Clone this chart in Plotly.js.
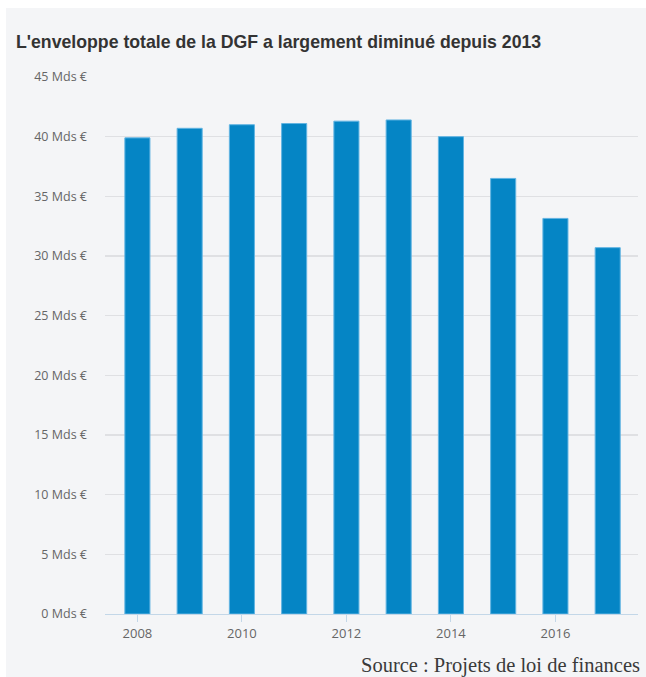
<!DOCTYPE html>
<html>
<head>
<meta charset="utf-8">
<script src="https://cdn.plot.ly/plotly-3.0.1.min.js"></script>
<style>
  html, body { margin: 0; padding: 0; background: #ffffff; }
  #chart { position: absolute; left: 6px; top: 8px; width: 640px; height: 669px; }
</style>
</head>
<body>
<div id="chart"></div>
<script>
const years = [2008, 2009, 2010, 2011, 2012, 2013, 2014, 2015, 2016, 2017];
const dgf = [39.9, 40.7, 41.0, 41.1, 41.3, 41.4, 40.0, 36.5, 33.15, 30.7];
const yTickVals = [0, 5, 10, 15, 20, 25, 30, 35, 40, 45];
const yTickText = yTickVals.map(v => v + ' Mds €');
const xTickVals = [2008, 2010, 2012, 2014, 2016];

const trace = {
  type: 'bar',
  x: years,
  y: dgf,
  width: 0.48,
  marker: { color: '#0585c5', line: { color: '#62b4e2', width: 1 } },
  hoverinfo: 'x+y'
};

const layout = {
  width: 640,
  height: 669,
  paper_bgcolor: '#f4f5f7',
  plot_bgcolor: '#f4f5f7',
  margin: { l: 99, r: 8, t: 69, b: 63 },
  showlegend: false,
  title: {
    text: "L'enveloppe totale de la DGF a largement diminué depuis 2013",
    font: { family: 'Liberation Sans, Arial, sans-serif', size: 17.7, color: '#333333', weight: 'bold' },
    xref: 'container', yref: 'container',
    x: 10 / 640, xanchor: 'left',
    y: 1 - 34 / 669, yanchor: 'middle'
  },
  xaxis: {
    range: [2007.38, 2017.58],
    tickvals: xTickVals,
    ticktext: xTickVals.map(String),
    ticks: 'outside',
    ticklen: 7,
    tickcolor: '#c3d7e8',
    tickwidth: 1,
    showline: true,
    linecolor: '#c3d7e8',
    linewidth: 1,
    showgrid: false,
    zeroline: false,
    tickfont: { family: 'Open Sans, sans-serif', size: 13, color: '#666666' },
    fixedrange: true
  },
  yaxis: {
    range: [0, 45],
    tickvals: yTickVals,
    ticktext: yTickText,
    showgrid: true,
    gridcolor: '#dfe0e3',
    gridwidth: 1.5,
    zeroline: false,
    showline: false,
    ticks: '',
    ticklabelstandoff: 17,
    tickfont: { family: 'Open Sans, sans-serif', size: 12.5, color: '#666666' },
    fixedrange: true
  },
  annotations: [{
    text: 'Source : Projets de loi de finances',
    xref: 'paper', yref: 'paper',
    x: 1, y: 0,
    xanchor: 'right', yanchor: 'middle',
    xshift: 4, yshift: -51,
    showarrow: false,
    font: { family: 'Liberation Serif, DejaVu Serif, serif', size: 20.5, color: '#3a3a3a' }
  }]
};

Plotly.newPlot('chart', [trace], layout, { displayModeBar: false, staticPlot: true });
</script>
</body>
</html>
